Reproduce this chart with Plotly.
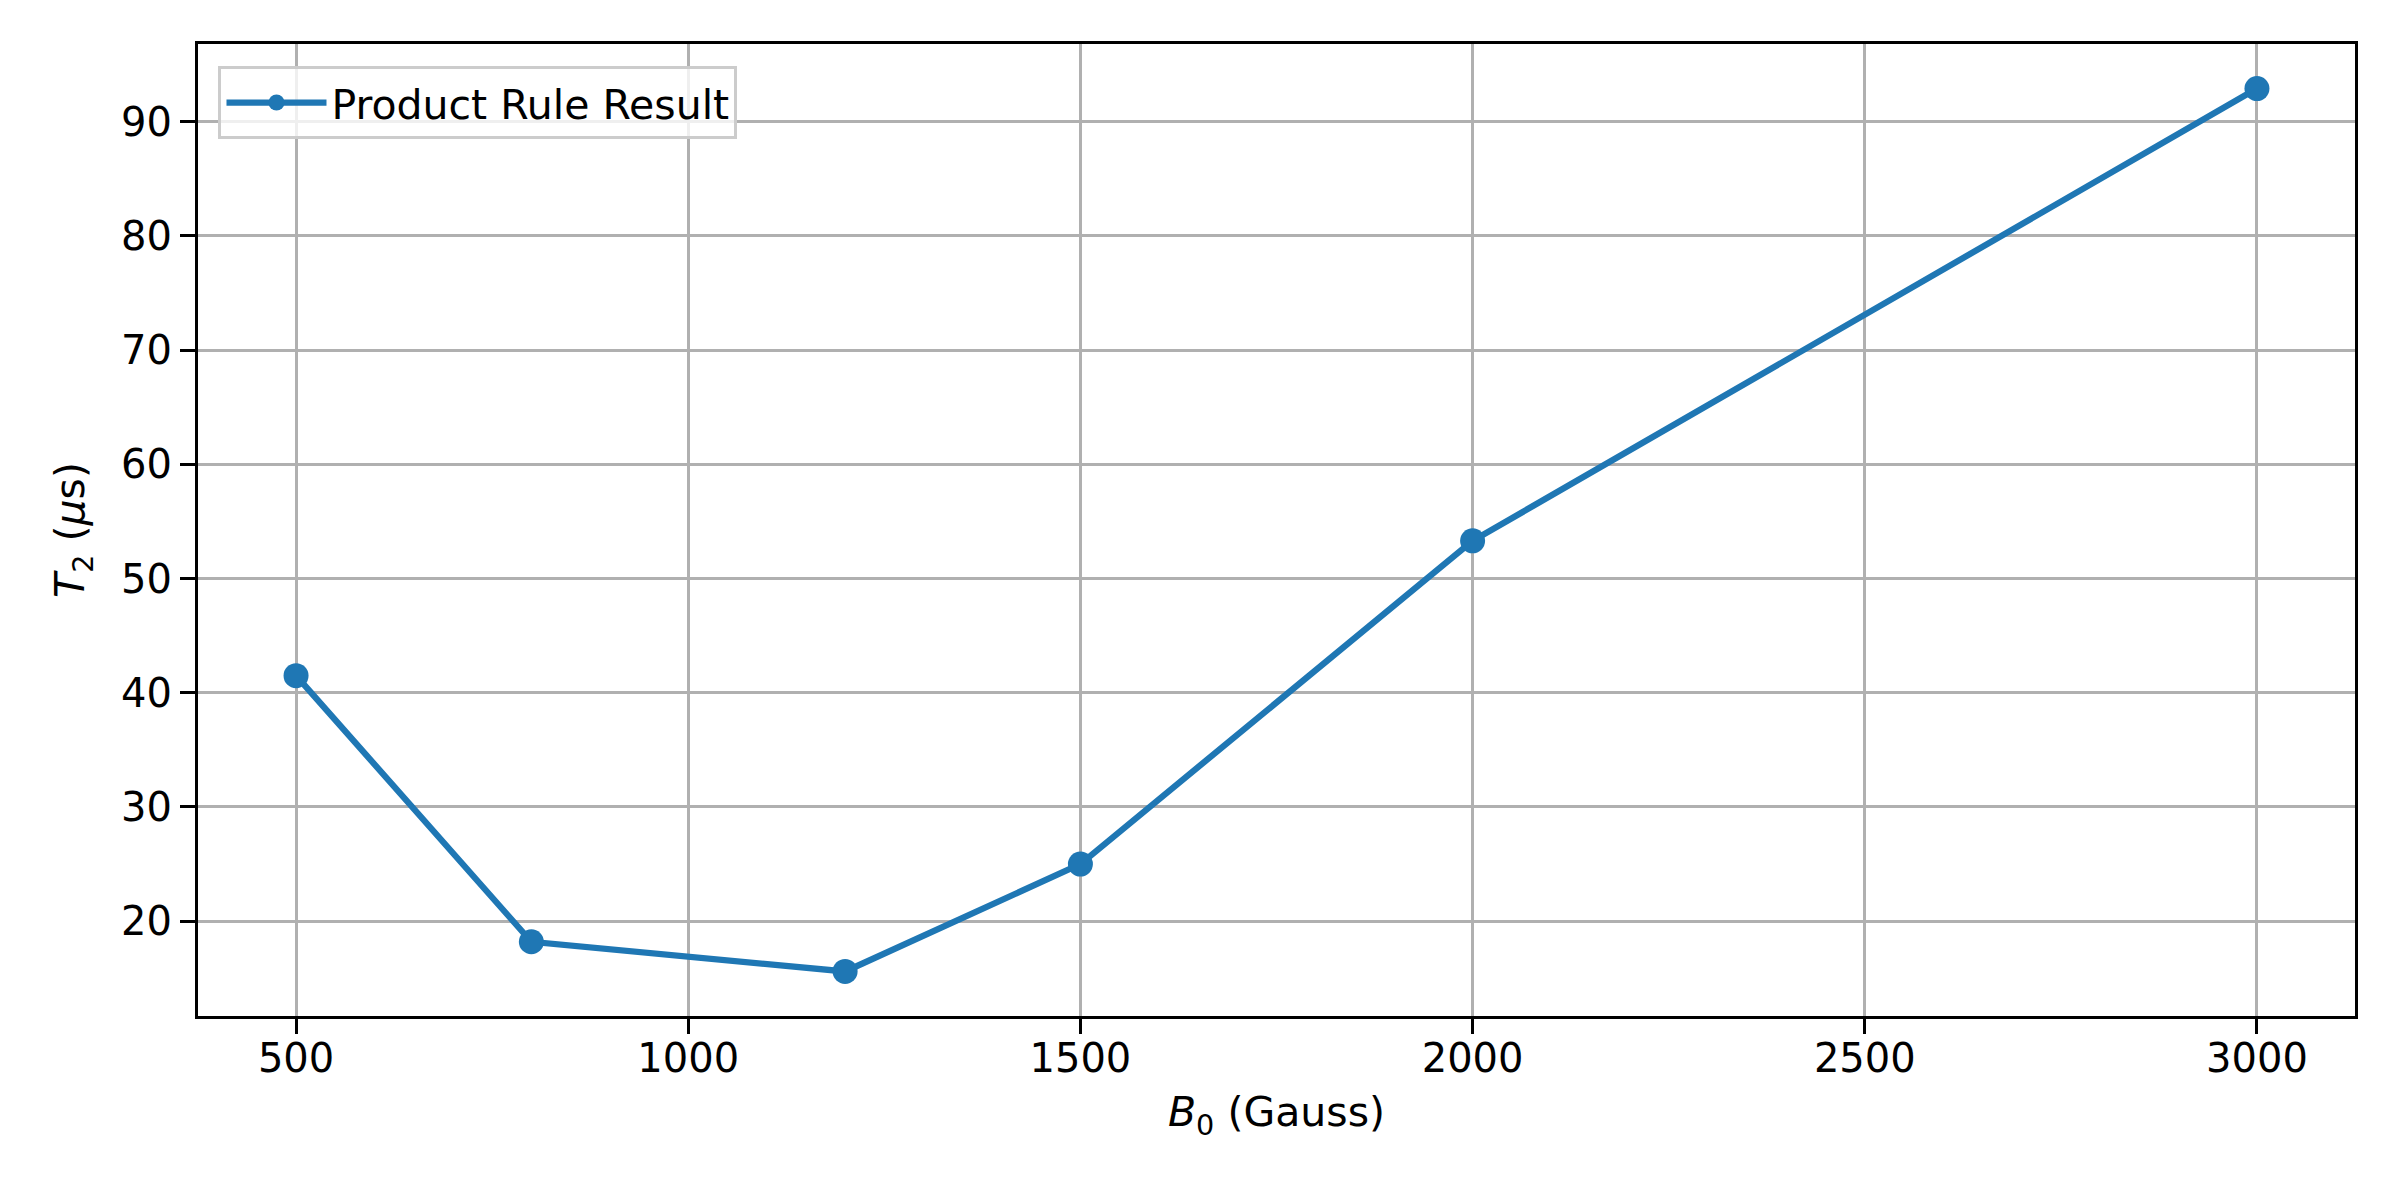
import plotly.graph_objects as go

# field strength (Gauss) and the resulting T2 (microseconds)
b0_gauss = [500, 800, 1200, 1500, 2000, 3000]
t2_us = [41.5, 18.2, 15.6, 25.0, 53.3, 92.9]

x_ticks = [500, 1000, 1500, 2000, 2500, 3000]
y_ticks = [20, 30, 40, 50, 60, 70, 80, 90]

BLUE = '#1f77b4'
FONT = 'DejaVu Sans'

fig = go.Figure()
fig.add_trace(go.Scatter(
    x=b0_gauss, y=t2_us,
    mode='lines+markers',
    name='Product Rule Result',
    line=dict(color=BLUE, width=6.25),
    marker=dict(color=BLUE, size=25),
))

axis_common = dict(
    showline=True, linecolor='black', linewidth=3.3, mirror=True,
    ticks='outside', ticklen=15, tickwidth=3.3, tickcolor='black',
    showgrid=True, gridcolor='#b0b0b0', gridwidth=3.3,
    zeroline=False,
    tickfont=dict(family=FONT, size=40, color='black'),
    automargin=False,
)

fig.update_layout(
    width=2400, height=1200,
    margin=dict(l=198, r=45, t=44, b=184),
    paper_bgcolor='white', plot_bgcolor='white',
    font=dict(family=FONT, size=41, color='black'),
    showlegend=True,
    legend=dict(
        x=0.0095, y=0.977, xanchor='left', yanchor='top',
        bgcolor='rgba(255,255,255,0.8)',
        bordercolor='#cccccc', borderwidth=3,
        itemwidth=100,
        font=dict(family=FONT, size=41, color='black'),
    ),
    xaxis=dict(
        range=[375, 3125], tickvals=x_ticks, ticklabelstandoff=-10,
        title=dict(text='<i>B</i><sub>0</sub> (Gauss)', standoff=18,
                   font=dict(family=FONT, size=41)),
        **axis_common,
    ),
    yaxis=dict(
        range=[11.7, 96.8], tickvals=y_ticks,
        title=dict(text='<i>T</i><sub>2</sub> (<i>μ</i>s)', standoff=24,
                   font=dict(family=FONT, size=41)),
        **axis_common,
    ),
)

# the page's default body margin would shift the figure by 8px
fig.write_html('out.html', config={'displayModeBar': False},
               post_script="document.body.style.margin='0px';")
